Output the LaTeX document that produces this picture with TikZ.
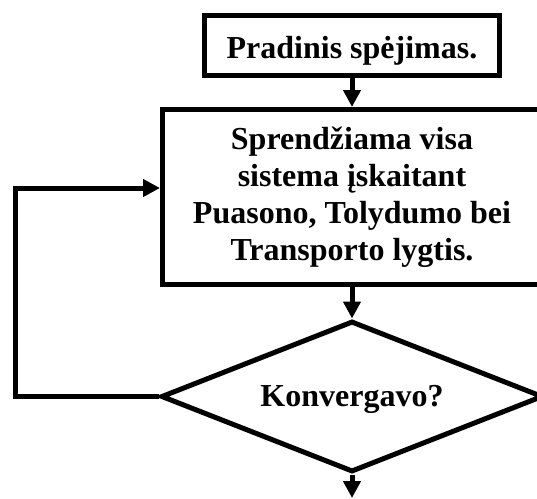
\documentclass[tikz,border=0pt]{standalone}
\usepackage{fontspec}
\setmainfont{Liberation Serif}
\usetikzlibrary{arrows.meta,shapes.geometric}
\begin{document}
\begin{tikzpicture}[x=1pt,y=-1pt,
  box/.style={draw,line width=5pt,inner sep=0pt,align=center,font=\fontsize{32}{37}\selectfont\bfseries},
  dec/.style={box,shape=diamond,aspect=2.5},
  arr/.style={line width=5pt,-{Triangle[width=17pt,length=17pt]}}]
\useasboundingbox (0,0) rectangle (537,498);
\clip (0,0) rectangle (537,498);
\node[box,minimum width=295pt,minimum height=60pt,text height=27pt,text depth=2pt] (start) at (352,45.5) {Pradinis spėjimas.};
\node[box,minimum width=379pt,minimum height=175pt] (solve) at (352,197) {Sprendžiama visa\\sistema įskaitant\\Puasono, Tolydumo bei\\Transporto lygtis.};
\node[dec,minimum width=382pt,minimum height=151pt,text height=24pt,text depth=5pt] (conv) at (352,396.5) {Konvergavo?};
\coordinate (lb) at (15.7,396.5);
\coordinate (lt) at (15.7,188);
\coordinate (end) at (352,498);
\draw[arr] (start) -- (solve);
\draw[arr] (solve) -- (conv);
\draw[arr] (conv.west) -- (lb) -- (lt) -- (solve.west |- lt);
\draw[arr] (conv) -- (end);
\end{tikzpicture}
\end{document}
